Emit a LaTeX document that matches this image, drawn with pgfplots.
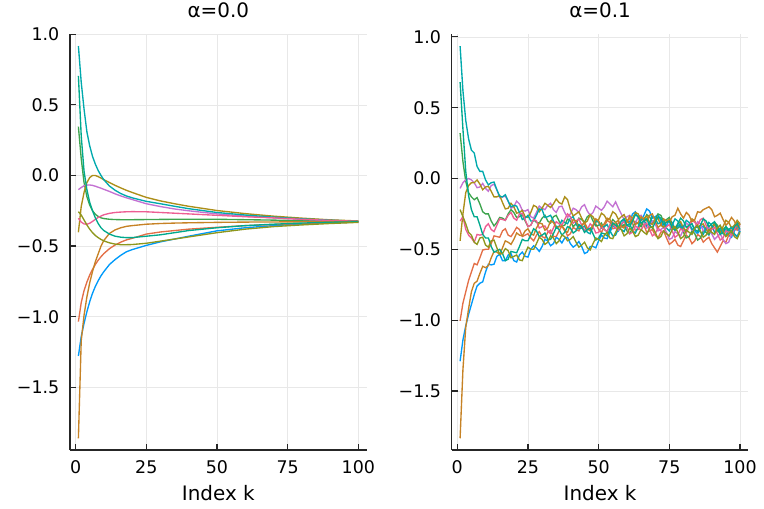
\documentclass[border=0pt]{standalone}
\usepackage{fontspec}
\setmainfont{DejaVu Sans}
\usepackage{pgfplots}
\pgfplotsset{compat=1.18}
\usepackage{pgfplotstable}

\definecolor{c1}{HTML}{009AFA}
\definecolor{c2}{HTML}{E36F47}
\definecolor{c3}{HTML}{3EA44E}
\definecolor{c4}{HTML}{C371D2}
\definecolor{c5}{HTML}{AC8E18}
\definecolor{c6}{HTML}{00A9AD}
\definecolor{c7}{HTML}{ED5E93}
\definecolor{c8}{HTML}{C68225}
\definecolor{c9}{HTML}{00A98D}
\definecolor{c10}{HTML}{8E971D}

\pgfplotstableread{
k s1 s2 s3 s4 s5 s6 s7 s8 s9 s10
1 -1.278 -1.035 0.346 -0.100 -0.402 0.917 -0.303 -1.861 0.705 -0.256
2 -1.141 -0.900 0.120 -0.085 -0.220 0.660 -0.330 -1.170 0.280 -0.280
3 -1.047 -0.815 -0.050 -0.073 -0.120 0.470 -0.343 -0.990 0.030 -0.315
4 -0.965 -0.755 -0.150 -0.068 -0.050 0.310 -0.345 -0.860 -0.100 -0.350
5 -0.894 -0.705 -0.210 -0.067 -0.015 0.210 -0.338 -0.760 -0.190 -0.380
6 -0.834 -0.665 -0.250 -0.070 0.000 0.135 -0.325 -0.680 -0.250 -0.405
7 -0.785 -0.630 -0.275 -0.076 0.000 0.080 -0.310 -0.610 -0.300 -0.425
8 -0.745 -0.600 -0.290 -0.083 -0.008 0.035 -0.297 -0.555 -0.340 -0.440
9 -0.710 -0.575 -0.300 -0.090 -0.018 0.000 -0.287 -0.500 -0.370 -0.453
10 -0.681 -0.553 -0.305 -0.098 -0.030 -0.030 -0.278 -0.460 -0.390 -0.463
12 -0.630 -0.518 -0.310 -0.113 -0.050 -0.075 -0.268 -0.410 -0.415 -0.477
14 -0.595 -0.492 -0.312 -0.130 -0.070 -0.105 -0.262 -0.385 -0.430 -0.486
16 -0.565 -0.472 -0.313 -0.145 -0.088 -0.128 -0.259 -0.370 -0.437 -0.490
18 -0.540 -0.456 -0.313 -0.158 -0.105 -0.145 -0.257 -0.360 -0.440 -0.490
20 -0.525 -0.445 -0.313 -0.170 -0.120 -0.158 -0.256 -0.355 -0.440 -0.489
25 -0.495 -0.415 -0.312 -0.200 -0.155 -0.183 -0.257 -0.345 -0.430 -0.480
30 -0.470 -0.400 -0.311 -0.220 -0.180 -0.200 -0.262 -0.340 -0.420 -0.465
35 -0.450 -0.390 -0.310 -0.237 -0.200 -0.218 -0.267 -0.337 -0.405 -0.450
40 -0.430 -0.380 -0.310 -0.250 -0.218 -0.235 -0.272 -0.335 -0.390 -0.435
50 -0.392 -0.367 -0.310 -0.272 -0.248 -0.262 -0.282 -0.332 -0.370 -0.405
60 -0.370 -0.355 -0.313 -0.288 -0.270 -0.280 -0.292 -0.330 -0.355 -0.380
70 -0.355 -0.347 -0.316 -0.300 -0.288 -0.295 -0.300 -0.329 -0.345 -0.362
80 -0.344 -0.340 -0.320 -0.310 -0.302 -0.307 -0.310 -0.328 -0.337 -0.350
90 -0.335 -0.334 -0.323 -0.318 -0.314 -0.317 -0.318 -0.327 -0.331 -0.340
100 -0.330 -0.330 -0.326 -0.324 -0.322 -0.324 -0.324 -0.327 -0.328 -0.332
}\lefttab

\pgfplotstableread{
k s1 s2 s3 s4 s5 s6 s7 s8 s9 s10
1 -1.29 -1.005 0.32 -0.07 -0.44 0.935 -0.30 -1.834 0.68 -0.22
2 -1.14 -0.88 0.12 -0.03 -0.25 0.62 -0.27 -1.35 0.35 -0.27
3 -1.04 -0.80 -0.02 -0.01 -0.10 0.41 -0.36 -1.05 0.05 -0.32
4 -0.96 -0.72 -0.10 0.00 -0.05 0.28 -0.40 -0.92 -0.12 -0.38
5 -0.89 -0.66 -0.13 -0.01 -0.03 0.20 -0.42 -0.80 -0.22 -0.40
6 -0.82 -0.60 -0.15 -0.03 -0.03 0.18 -0.45 -0.74 -0.27 -0.45
7 -0.76 -0.61 -0.135 -0.065 -0.01 0.085 -0.395 -0.725 -0.27 -0.465
8 -0.74 -0.56 -0.18 -0.06 -0.04 0.05 -0.40 -0.67 -0.33 -0.42
9 -0.73 -0.505 -0.235 -0.035 -0.08 0.05 -0.395 -0.62 -0.395 -0.415
10 -0.66 -0.50 -0.25 -0.07 -0.06 -0.01 -0.34 -0.63 -0.42 -0.47
11 -0.605 -0.50 -0.25 -0.09 -0.055 -0.045 -0.32 -0.615 -0.42 -0.485
12 -0.61 -0.46 -0.30 -0.05 -0.09 -0.03 -0.36 -0.56 -0.48 -0.44
13 -0.605 -0.405 -0.335 -0.04 -0.13 -0.025 -0.375 -0.515 -0.52 -0.435
14 -0.55 -0.41 -0.31 -0.08 -0.13 -0.08 -0.33 -0.52 -0.51 -0.49
15 -0.535 -0.415 -0.275 -0.135 -0.12 -0.125 -0.285 -0.535 -0.50 -0.535
16 -0.58 -0.37 -0.28 -0.13 -0.17 -0.13 -0.29 -0.49 -0.53 -0.53
17 -0.58 -0.355 -0.295 -0.125 -0.215 -0.115 -0.295 -0.44 -0.58 -0.495
18 -0.54 -0.40 -0.25 -0.16 -0.21 -0.16 -0.26 -0.45 -0.57 -0.51
19 -0.53 -0.41 -0.22 -0.21 -0.175 -0.20 -0.24 -0.465 -0.515 -0.56
20 -0.58 -0.38 -0.24 -0.20 -0.20 -0.19 -0.28 -0.43 -0.52 -0.55
21 -0.59 -0.345 -0.275 -0.16 -0.245 -0.195 -0.295 -0.385 -0.525 -0.54
22 -0.54 -0.36 -0.27 -0.18 -0.24 -0.24 -0.25 -0.40 -0.48 -0.575
23 -0.52 -0.41 -0.255 -0.225 -0.225 -0.29 -0.245 -0.405 -0.43 -0.58
24 -0.55 -0.40 -0.30 -0.23 -0.27 -0.28 -0.29 -0.37 -0.44 -0.53
25 -0.555 -0.39 -0.34 -0.22 -0.275 -0.26 -0.34 -0.355 -0.44 -0.485
26 -0.50 -0.42 -0.33 -0.27 -0.24 -0.30 -0.33 -0.39 -0.40 -0.50
27 -0.475 -0.44 -0.29 -0.28 -0.19 -0.30 -0.29 -0.40 -0.355 -0.50
28 -0.49 -0.40 -0.31 -0.24 -0.20 -0.26 -0.30 -0.35 -0.37 -0.46
29 -0.515 -0.375 -0.315 -0.195 -0.235 -0.215 -0.35 -0.315 -0.41 -0.415
30 -0.48 -0.41 -0.28 -0.21 -0.21 -0.22 -0.34 -0.32 -0.40 -0.43
31 -0.43 -0.42 -0.26 -0.22 -0.175 -0.275 -0.335 -0.365 -0.385 -0.465
32 -0.44 -0.38 -0.30 -0.19 -0.19 -0.27 -0.37 -0.35 -0.43 -0.45
33 -0.475 -0.365 -0.315 -0.175 -0.205 -0.26 -0.39 -0.30 -0.43 -0.405
34 -0.46 -0.41 -0.27 -0.22 -0.18 -0.30 -0.35 -0.31 -0.39 -0.42
35 -0.415 -0.41 -0.26 -0.24 -0.145 -0.34 -0.305 -0.35 -0.345 -0.46
36 -0.43 -0.37 -0.30 -0.20 -0.17 -0.34 -0.32 -0.34 -0.36 -0.44
37 -0.455 -0.335 -0.335 -0.195 -0.18 -0.295 -0.33 -0.335 -0.40 -0.40
38 -0.42 -0.36 -0.33 -0.24 -0.13 -0.31 -0.29 -0.37 -0.38 -0.41
39 -0.415 -0.405 -0.285 -0.275 -0.15 -0.32 -0.25 -0.38 -0.34 -0.44
40 -0.46 -0.39 -0.30 -0.25 -0.22 -0.28 -0.27 -0.33 -0.35 -0.43
41 -0.485 -0.345 -0.34 -0.21 -0.265 -0.27 -0.315 -0.29 -0.385 -0.41
42 -0.47 -0.36 -0.32 -0.22 -0.25 -0.32 -0.30 -0.30 -0.37 -0.45
43 -0.445 -0.37 -0.28 -0.24 -0.235 -0.355 -0.285 -0.345 -0.325 -0.485
44 -0.48 -0.33 -0.29 -0.20 -0.28 -0.35 -0.33 -0.33 -0.34 -0.47
45 -0.53 -0.31 -0.31 -0.185 -0.315 -0.335 -0.365 -0.315 -0.38 -0.45
46 -0.52 -0.35 -0.27 -0.23 -0.30 -0.38 -0.36 -0.36 -0.36 -0.49
47 -0.48 -0.37 -0.255 -0.26 -0.255 -0.39 -0.32 -0.365 -0.35 -0.505
48 -0.48 -0.33 -0.30 -0.24 -0.27 -0.34 -0.34 -0.33 -0.39 -0.46
49 -0.49 -0.32 -0.335 -0.195 -0.31 -0.295 -0.385 -0.285 -0.435 -0.42
50 -0.44 -0.36 -0.33 -0.21 -0.29 -0.31 -0.38 -0.30 -0.42 -0.43
51 -0.40 -0.38 -0.315 -0.225 -0.245 -0.35 -0.34 -0.34 -0.385 -0.445
52 -0.42 -0.34 -0.36 -0.20 -0.26 -0.34 -0.36 -0.32 -0.39 -0.40
53 -0.425 -0.295 -0.375 -0.16 -0.295 -0.325 -0.375 -0.28 -0.405 -0.38
54 -0.38 -0.31 -0.33 -0.18 -0.28 -0.37 -0.33 -0.29 -0.36 -0.42
55 -0.335 -0.355 -0.29 -0.20 -0.235 -0.405 -0.31 -0.33 -0.315 -0.425
56 -0.35 -0.35 -0.31 -0.165 -0.25 -0.40 -0.35 -0.31 -0.33 -0.38
57 -0.37 -0.31 -0.35 -0.21 -0.29 -0.355 -0.365 -0.295 -0.345 -0.34
58 -0.33 -0.33 -0.34 -0.25 -0.27 -0.36 -0.32 -0.34 -0.30 -0.36
59 -0.29 -0.345 -0.325 -0.29 -0.255 -0.375 -0.305 -0.35 -0.285 -0.405
60 -0.30 -0.30 -0.37 -0.27 -0.30 -0.33 -0.34 -0.31 -0.33 -0.39
61 -0.305 -0.28 -0.39 -0.26 -0.32 -0.32 -0.39 -0.265 -0.34 -0.35
62 -0.25 -0.32 -0.35 -0.30 -0.28 -0.37 -0.38 -0.28 -0.30 -0.37
63 -0.235 -0.365 -0.305 -0.315 -0.24 -0.385 -0.335 -0.325 -0.255 -0.41
64 -0.28 -0.36 -0.32 -0.27 -0.25 -0.34 -0.35 -0.31 -0.27 -0.40
65 -0.295 -0.315 -0.34 -0.26 -0.295 -0.285 -0.365 -0.27 -0.315 -0.36
66 -0.26 -0.33 -0.30 -0.31 -0.28 -0.29 -0.33 -0.29 -0.30 -0.38
67 -0.215 -0.38 -0.255 -0.35 -0.265 -0.335 -0.315 -0.30 -0.285 -0.395
68 -0.23 -0.37 -0.27 -0.34 -0.31 -0.32 -0.36 -0.26 -0.33 -0.35
69 -0.28 -0.36 -0.31 -0.30 -0.325 -0.27 -0.405 -0.25 -0.35 -0.34
70 -0.27 -0.40 -0.29 -0.32 -0.29 -0.28 -0.39 -0.30 -0.31 -0.38
71 -0.255 -0.42 -0.25 -0.37 -0.28 -0.32 -0.35 -0.345 -0.27 -0.425
72 -0.30 -0.38 -0.26 -0.36 -0.33 -0.31 -0.37 -0.33 -0.28 -0.41
73 -0.345 -0.37 -0.305 -0.345 -0.345 -0.30 -0.38 -0.285 -0.325 -0.37
74 -0.33 -0.42 -0.29 -0.38 -0.30 -0.35 -0.34 -0.30 -0.31 -0.39
75 -0.295 -0.465 -0.275 -0.43 -0.29 -0.37 -0.325 -0.31 -0.30 -0.405
76 -0.31 -0.45 -0.32 -0.42 -0.34 -0.33 -0.37 -0.27 -0.35 -0.36
77 -0.355 -0.43 -0.365 -0.375 -0.355 -0.285 -0.415 -0.26 -0.365 -0.34
78 -0.34 -0.47 -0.35 -0.39 -0.32 -0.30 -0.40 -0.21 -0.32 -0.38
79 -0.32 -0.48 -0.335 -0.405 -0.305 -0.35 -0.355 -0.25 -0.28 -0.425
80 -0.36 -0.44 -0.38 -0.36 -0.35 -0.34 -0.37 -0.28 -0.30 -0.41
81 -0.375 -0.40 -0.42 -0.315 -0.37 -0.295 -0.385 -0.24 -0.345 -0.365
82 -0.33 -0.42 -0.41 -0.33 -0.33 -0.31 -0.34 -0.26 -0.33 -0.38
83 -0.32 -0.46 -0.37 -0.365 -0.285 -0.36 -0.295 -0.305 -0.32 -0.395
84 -0.37 -0.44 -0.39 -0.35 -0.30 -0.35 -0.31 -0.29 -0.36 -0.35
85 -0.39 -0.395 -0.435 -0.305 -0.345 -0.34 -0.33 -0.235 -0.375 -0.33
86 -0.35 -0.41 -0.42 -0.32 -0.33 -0.38 -0.29 -0.24 -0.33 -0.37
87 -0.335 -0.45 -0.37 -0.37 -0.32 -0.395 -0.28 -0.22 -0.285 -0.415
88 -0.38 -0.43 -0.38 -0.36 -0.36 -0.35 -0.33 -0.21 -0.30 -0.40
89 -0.40 -0.415 -0.395 -0.345 -0.38 -0.31 -0.375 -0.20 -0.34 -0.36
90 -0.36 -0.46 -0.35 -0.39 -0.34 -0.33 -0.36 -0.22 -0.32 -0.38
91 -0.32 -0.49 -0.31 -0.43 -0.325 -0.38 -0.345 -0.27 -0.305 -0.395
92 -0.34 -0.52 -0.33 -0.41 -0.37 -0.37 -0.39 -0.26 -0.35 -0.35
93 -0.39 -0.48 -0.375 -0.39 -0.385 -0.35 -0.435 -0.245 -0.395 -0.33
94 -0.38 -0.44 -0.36 -0.43 -0.34 -0.39 -0.42 -0.29 -0.38 -0.37
95 -0.36 -0.45 -0.34 -0.46 -0.295 -0.405 -0.37 -0.33 -0.34 -0.41
96 -0.40 -0.40 -0.38 -0.45 -0.31 -0.36 -0.38 -0.31 -0.36 -0.39
97 -0.415 -0.345 -0.395 -0.395 -0.35 -0.345 -0.40 -0.275 -0.38 -0.37
98 -0.37 -0.35 -0.35 -0.40 -0.33 -0.39 -0.36 -0.30 -0.34 -0.41
99 -0.345 -0.365 -0.31 -0.41 -0.295 -0.41 -0.32 -0.34 -0.32 -0.425
100 -0.38 -0.32 -0.33 -0.36 -0.32 -0.37 -0.34 -0.32 -0.36 -0.38
}\righttab

\pgfplotsset{
  jl/.style={
    scale only axis, width=296.7bp, height=415.7bp,
    xmin=-1.97, xmax=102.97,
    axis x line=bottom, axis y line=left,
    axis line style={-, line width=1.5bp, black!85},
    tick align=inside, major tick length=6bp,
    tick style={line width=1.2bp, black!85},
    xtick={0,25,50,75,100}, xticklabels={0,25,50,75,100},
    ytick={-1.5,-1,-0.5,0,0.5,1}, yticklabels={−1.5,−1.0,−0.5,0.0,0.5,1.0},
    grid=major, grid style={line width=0.6bp, black!9},
    tick label style={font=\fontsize{17.5}{20}\selectfont},
    xticklabel style={anchor=base, inner sep=0pt, yshift=-23.5bp},
    yticklabel style={anchor=east, inner sep=0pt, xshift=-10.5bp},
    xlabel={Index k},
    xlabel style={font=\fontsize{20}{24}\selectfont, at={(axis description cs:0.5,0)}, anchor=base, yshift=-50bp},
    title style={font=\fontsize{20}{24}\selectfont, at={(axis description cs:0.5,1)}, anchor=base, yshift=11bp},
    every axis plot/.append style={line width=1.35bp, no markers},
  }
}

\begin{document}
\begin{tikzpicture}
\useasboundingbox (0,0) rectangle (764bp,509bp);
\begin{axis}[jl, at={(70bp,59bp)}, anchor=south west, ymin=-1.944, ymax=1.0, title={α=0.0}]
\addplot[c1] table[x=k,y=s1]{\lefttab};
\addplot[c2] table[x=k,y=s2]{\lefttab};
\addplot[c3] table[x=k,y=s3]{\lefttab};
\addplot[c4] table[x=k,y=s4]{\lefttab};
\addplot[c5] table[x=k,y=s5]{\lefttab};
\addplot[c6] table[x=k,y=s6]{\lefttab};
\addplot[c7] table[x=k,y=s7]{\lefttab};
\addplot[c8] table[x=k,y=s8]{\lefttab};
\addplot[c9] table[x=k,y=s9]{\lefttab};
\addplot[c10] table[x=k,y=s10]{\lefttab};
\end{axis}
\begin{axis}[jl, at={(451.7bp,59bp)}, anchor=south west, ymin=-1.917, ymax=1.018, title={α=0.1}]
\addplot[c1] table[x=k,y=s1]{\righttab};
\addplot[c2] table[x=k,y=s2]{\righttab};
\addplot[c3] table[x=k,y=s3]{\righttab};
\addplot[c4] table[x=k,y=s4]{\righttab};
\addplot[c5] table[x=k,y=s5]{\righttab};
\addplot[c6] table[x=k,y=s6]{\righttab};
\addplot[c7] table[x=k,y=s7]{\righttab};
\addplot[c8] table[x=k,y=s8]{\righttab};
\addplot[c9] table[x=k,y=s9]{\righttab};
\addplot[c10] table[x=k,y=s10]{\righttab};
\end{axis}
\end{tikzpicture}
\end{document}
